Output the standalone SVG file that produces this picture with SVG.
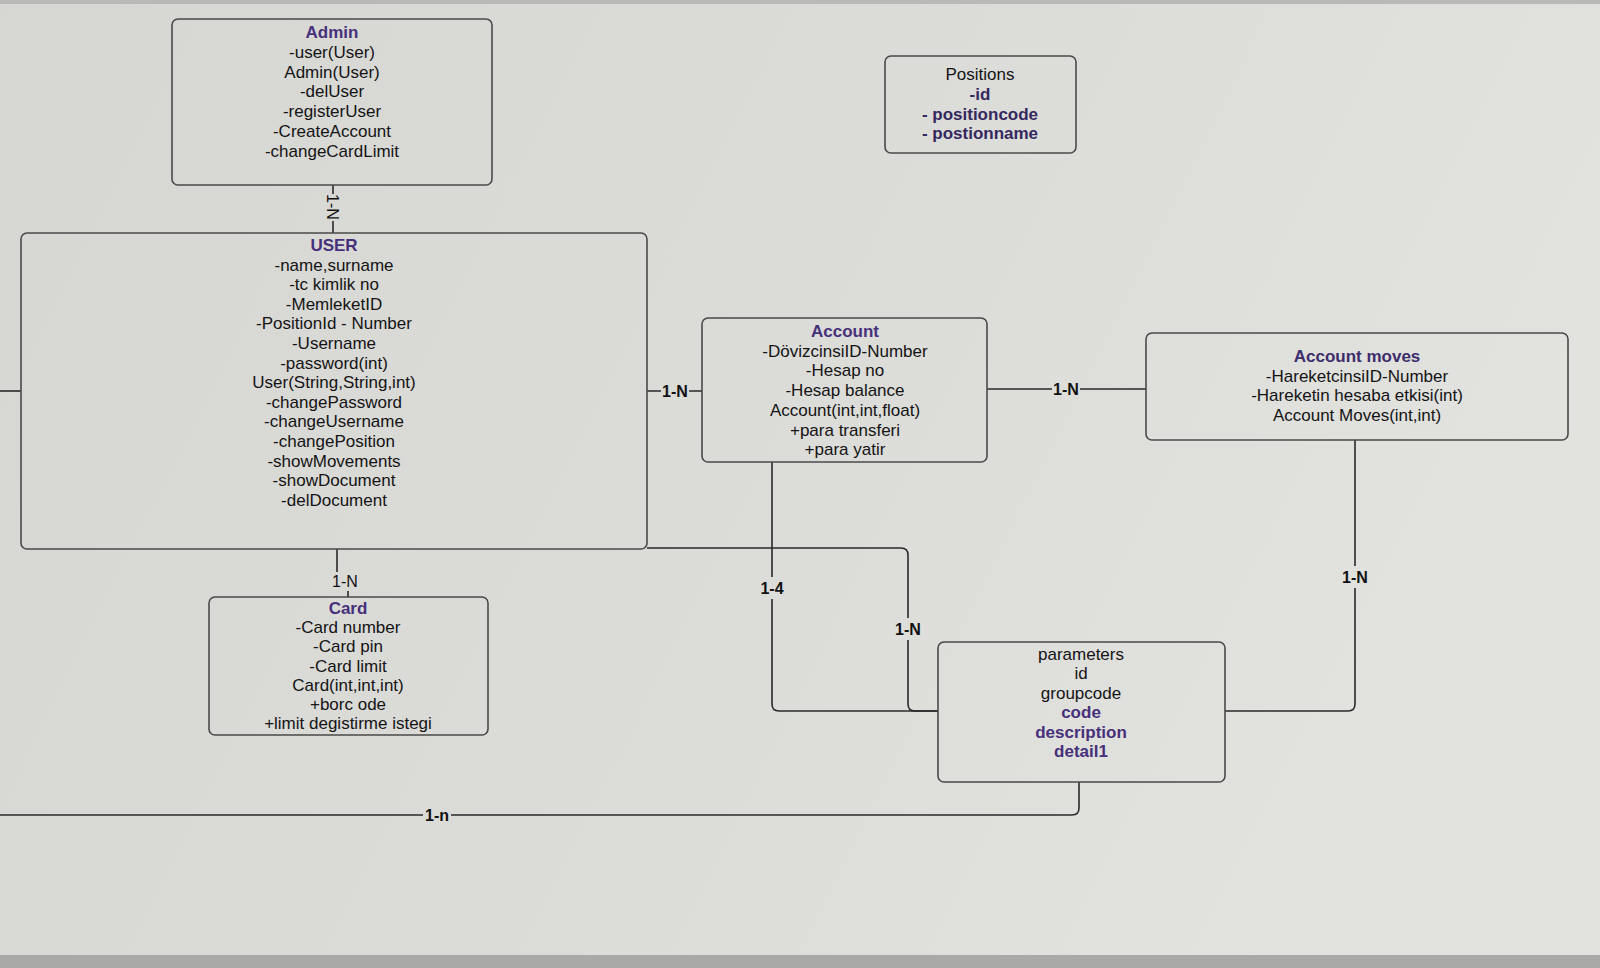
<svg xmlns="http://www.w3.org/2000/svg" width="1600" height="968" viewBox="0 0 1600 968">
<defs>
<linearGradient id="bg" x1="0" y1="0" x2="1" y2="0.3">
<stop offset="0" stop-color="#d6d6d3"/>
<stop offset="0.6" stop-color="#dcdcd9"/>
<stop offset="1" stop-color="#e2e2df"/>
</linearGradient>
<style>
.box{fill:none;stroke:#4a4a4a;stroke-width:1.6}
.t{font-family:"Liberation Sans",Arial,sans-serif;font-size:17px;fill:#141414;text-anchor:middle}
.h{font-weight:bold;fill:#47307a}
.p{font-weight:bold;fill:#35285f}
.e{fill:none;stroke:#2a2a2a;stroke-width:1.6}
.lbl{font-family:"Liberation Sans",Arial,sans-serif;font-size:16px;font-weight:bold;fill:#111;text-anchor:middle}
</style>
</defs>
<rect width="1600" height="968" fill="url(#bg)"/>
<rect x="0" y="0" width="1600" height="4" fill="#b9b9b7"/>
<rect x="0" y="955" width="1600" height="13" fill="#a9a9a7"/>

<g id="connectors">
<!-- Admin - USER -->
<path class="e" d="M333 185 V194 M333 221 V233"/>
<text class="lbl" transform="translate(333 207) rotate(90)" y="6" style="font-weight:normal">1-N</text>
<!-- left stub -->
<path class="e" d="M0 391 H21"/>
<!-- USER - Account -->
<path class="e" d="M647 391 H661 M689 391 H702"/>
<text class="lbl" x="675" y="397">1-N</text>
<!-- Account - Account moves -->
<path class="e" d="M987 389 H1052 M1080 389 H1146"/>
<text class="lbl" x="1066" y="395">1-N</text>
<!-- USER - Card -->
<path class="e" d="M337 549 V572 M348 591 V597"/>
<text class="lbl" x="345" y="587" style="font-weight:normal">1-N</text>
<!-- Account - parameters -->
<path class="e" d="M772 462 V577 M772 599 V704 Q772 711 779 711 H938"/>
<text class="lbl" x="772" y="594">1-4</text>
<!-- USER - parameters -->
<path class="e" d="M647 548 H901 Q908 548 908 555 V618 M908 640 V704 Q908 711 915 711 H938"/>
<text class="lbl" x="908" y="635">1-N</text>
<!-- Account moves - parameters -->
<path class="e" d="M1355 440 V566 M1355 588 V704 Q1355 711 1348 711 H1225"/>
<text class="lbl" x="1355" y="583">1-N</text>
<!-- bottom -->
<path class="e" d="M0 815 H423 M451 815 H1072 Q1079 815 1079 808 V782"/>
<text class="lbl" x="437" y="821">1-n</text>
</g>

<g id="admin">
<rect class="box" x="172" y="19" width="320" height="166" rx="6"/>
<text class="t" y="38"><tspan class="h" x="332">Admin</tspan><tspan x="332" dy="19.8">-user(User)</tspan><tspan x="332" dy="19.8">Admin(User)</tspan><tspan x="332" dy="19.8">-delUser</tspan><tspan x="332" dy="19.8">-registerUser</tspan><tspan x="332" dy="19.8">-CreateAccount</tspan><tspan x="332" dy="19.8">-changeCardLimit</tspan></text>
</g>

<g id="positions">
<rect class="box" x="885" y="56" width="191" height="97" rx="6"/>
<text class="t" y="80"><tspan x="980">Positions</tspan><tspan class="p" x="980" dy="19.8">-id</tspan><tspan class="p" x="980" dy="19.8">- positioncode</tspan><tspan class="p" x="980" dy="19.8">- postionname</tspan></text>
</g>

<g id="user">
<rect class="box" x="21" y="233" width="626" height="316" rx="6"/>
<text class="t" y="251"><tspan class="h" x="334">USER</tspan><tspan x="334" dy="19.6">-name,surname</tspan><tspan x="334" dy="19.6">-tc kimlik no</tspan><tspan x="334" dy="19.6">-MemleketID</tspan><tspan x="334" dy="19.6">-PositionId - Number</tspan><tspan x="334" dy="19.6">-Username</tspan><tspan x="334" dy="19.6">-password(int)</tspan><tspan x="334" dy="19.6">User(String,String,int)</tspan><tspan x="334" dy="19.6">-changePassword</tspan><tspan x="334" dy="19.6">-changeUsername</tspan><tspan x="334" dy="19.6">-changePosition</tspan><tspan x="334" dy="19.6">-showMovements</tspan><tspan x="334" dy="19.6">-showDocument</tspan><tspan x="334" dy="19.6">-delDocument</tspan></text>
</g>

<g id="account">
<rect class="box" x="702" y="318" width="285" height="144" rx="6"/>
<text class="t" y="337"><tspan class="h" x="845">Account</tspan><tspan x="845" dy="19.7">-DövizcinsiID-Number</tspan><tspan x="845" dy="19.7">-Hesap no</tspan><tspan x="845" dy="19.7">-Hesap balance</tspan><tspan x="845" dy="19.7">Account(int,int,float)</tspan><tspan x="845" dy="19.7">+para transferi</tspan><tspan x="845" dy="19.7">+para yatir</tspan></text>
</g>

<g id="account-moves">
<rect class="box" x="1146" y="333" width="422" height="107" rx="6"/>
<text class="t" y="362"><tspan class="h" x="1357" style="fill:#3d2d6a">Account moves</tspan><tspan x="1357" dy="19.7">-HareketcinsiID-Number</tspan><tspan x="1357" dy="19.7">-Hareketin hesaba etkisi(int)</tspan><tspan x="1357" dy="19.7">Account Moves(int,int)</tspan></text>
</g>

<g id="card">
<rect class="box" x="209" y="597" width="279" height="138" rx="6"/>
<text class="t" y="614"><tspan class="h" x="348">Card</tspan><tspan x="348" dy="19.2">-Card number</tspan><tspan x="348" dy="19.2">-Card pin</tspan><tspan x="348" dy="19.2">-Card limit</tspan><tspan x="348" dy="19.2">Card(int,int,int)</tspan><tspan x="348" dy="19.2">+borc ode</tspan><tspan x="348" dy="19.2">+limit degistirme istegi</tspan></text>
</g>

<g id="parameters">
<rect class="box" x="938" y="642" width="287" height="140" rx="6"/>
<text class="t" y="660"><tspan x="1081">parameters</tspan><tspan x="1081" dy="19.4">id</tspan><tspan x="1081" dy="19.4">groupcode</tspan><tspan class="h" x="1081" dy="19.4">code</tspan><tspan class="h" x="1081" dy="19.4">description</tspan><tspan class="h" x="1081" dy="19.4">detail1</tspan></text>
</g>
</svg>
